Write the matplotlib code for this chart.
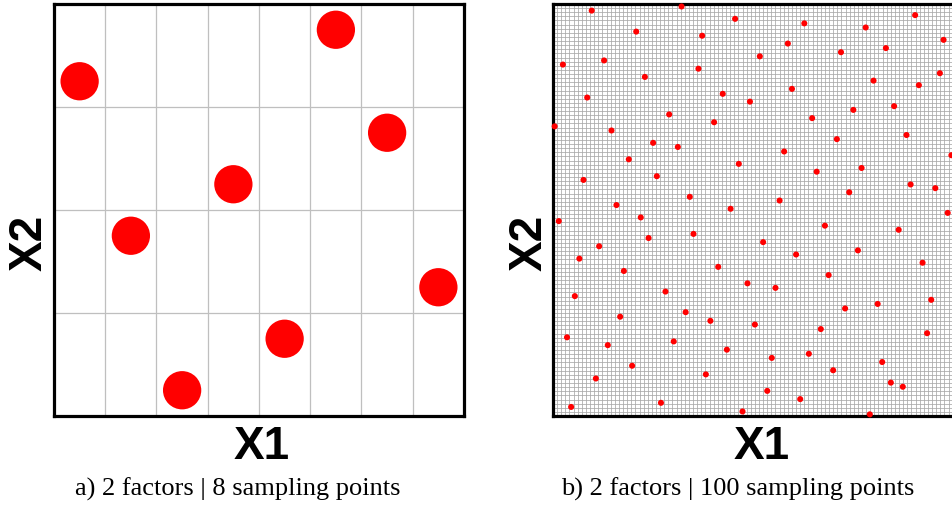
import numpy as np
import matplotlib.pyplot as plt

# panel a: 8 points on an 8x8 latin hypercube (cell centres)
a_x = [0.5, 1.5, 2.5, 3.5, 4.5, 5.5, 6.5, 7.5]
a_y = [6.5, 3.5, 0.5, 4.5, 1.5, 7.5, 5.5, 2.5]

# panel b: points, in grid units 0..100
b_x = [9.4, 31.2, 44.2, 20.2, 36.2, 2.4, 12.4, 35.3, 22.3, 8.3,
       41.2, 47.8, 28.2, 0.4, 39.1, 14.2, 24.3, 30.3, 45.1, 18.4,
       7.4, 25.2, 33.2, 15.4, 43.1, 87.9, 61.0, 75.9, 94.8, 57.0,
       69.9, 80.8, 50.2, 93.9, 77.8, 58.0, 88.8, 72.9, 82.8, 62.9,
       85.8, 68.9, 56.1, 96.7, 64.0, 74.9, 86.8, 92.8, 71.9, 55.0,
       1.4, 21.3, 34.1, 23.2, 11.2, 6.4, 40.1, 17.2, 47.2, 5.3,
       27.3, 32.2, 16.3, 38.2, 3.4, 13.3, 29.3, 42.2, 19.2, 37.1,
       10.4, 26.2, 4.4, 46.0, 95.8, 66.0, 83.9, 51.0, 59.0, 74.0,
       89.7, 66.9, 54.0, 91.8, 78.8, 70.9, 49.0, 65.0, 90.8, 53.1,
       62.1, 79.9, 68.0, 82.0, 84.9, 52.0, 60.0, 76.9]
b_y = [98.4, 99.4, 96.4, 93.3, 92.3, 85.3, 86.3, 84.3, 82.3, 77.3,
       78.2, 76.3, 73.2, 70.3, 71.3, 69.3, 66.3, 65.3, 61.2, 62.3,
       57.3, 58.2, 53.2, 51.2, 50.3, 97.3, 95.3, 94.3, 91.3, 90.4,
       88.3, 89.3, 87.3, 83.2, 81.4, 79.4, 80.3, 74.3, 75.2, 72.3,
       68.2, 67.2, 64.2, 63.3, 59.3, 60.2, 56.2, 55.3, 54.3, 52.3,
       47.3, 48.2, 44.2, 43.2, 41.2, 38.2, 36.2, 35.2, 32.2, 29.1,
       30.2, 25.2, 24.1, 23.1, 19.1, 17.2, 18.1, 16.1, 12.2, 10.1,
       9.1, 3.2, 2.2, 1.1, 49.3, 46.2, 45.2, 42.2, 39.2, 40.2,
       37.2, 34.2, 31.1, 28.2, 27.2, 26.1, 22.2, 21.1, 20.1, 14.1,
       15.1, 13.1, 11.1, 8.1, 7.1, 6.1, 4.1, 0.4]

W, H = 953, 506
fig = plt.figure(figsize=(W / 100, H / 100), dpi=100)

# left panel
ax1 = fig.add_axes([54 / W, 89 / H, 410 / W, 412 / H])
ax1.set_xlim(0, 8)
ax1.set_ylim(0, 8)
for v in range(1, 8):
    ax1.axvline(v, color='#bfbfbf', lw=0.9, zorder=1)
for v in [2, 4, 6]:
    ax1.axhline(v, color='#bfbfbf', lw=0.9, zorder=1)
ax1.scatter(a_x, a_y, s=760, color='#ff0000', edgecolors='none', zorder=3)

# right panel (runs off the right edge like the original)
ax2 = fig.add_axes([553 / W, 89 / H, 412 / W, 412 / H])
ax2.set_xlim(0, 100)
ax2.set_ylim(0, 100)
ax2.vlines(np.arange(1, 100), 0, 100, color='#a8a8a8', lw=0.55, zorder=1)
ax2.hlines(np.arange(1, 100), 0, 100, color='#a8a8a8', lw=0.55, zorder=1)
ax2.scatter(b_x, b_y, s=19, color='#ff0000', edgecolors='none', zorder=3,
            clip_on=False)

for ax in (ax1, ax2):
    ax.set_xticks([])
    ax.set_yticks([])
    for sp in ax.spines.values():
        sp.set_linewidth(2.3)
        sp.set_color('black')

lab = dict(family='Liberation Sans', weight='bold', fontsize=33,
           ha='center', va='center')
fig.text(262 / W, 1 - 447 / H, 'X1', **lab)
fig.text(30 / W, 1 - 243 / H, 'X2', rotation=90, **lab)
fig.text(762 / W, 1 - 447 / H, 'X1', **lab)
fig.text(530 / W, 1 - 243 / H, 'X2', rotation=90, **lab)

cap = dict(family='Liberation Serif', fontsize=19, ha='center', va='center')
fig.text(238 / W, 1 - 489 / H, 'a) 2 factors | 8 sampling points', **cap)
fig.text(738 / W, 1 - 489 / H, 'b) 2 factors | 100 sampling points', **cap)

fig.savefig('out.png', dpi=100)
